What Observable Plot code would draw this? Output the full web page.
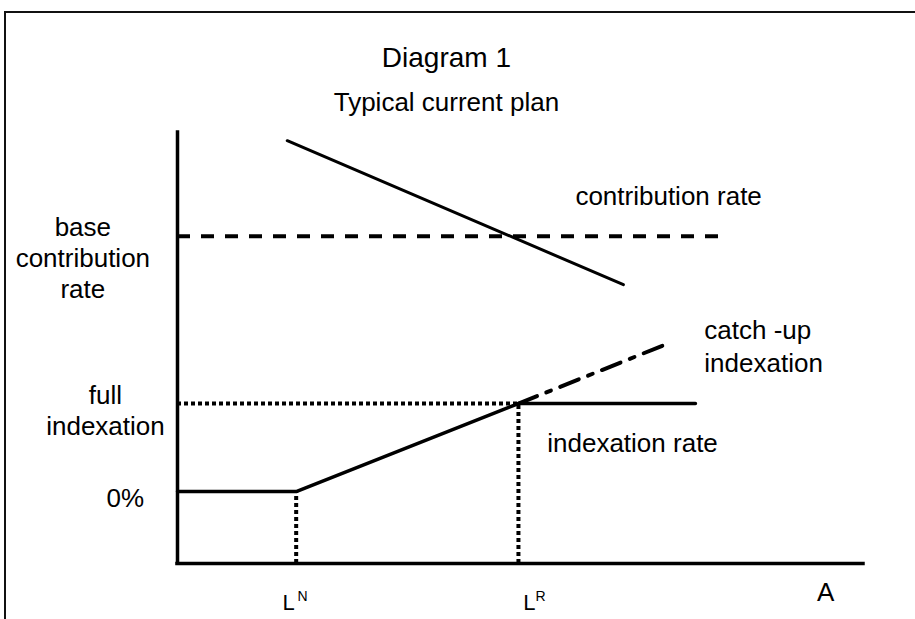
<!DOCTYPE html>
<html><head><meta charset="utf-8">
<script src="https://cdn.jsdelivr.net/npm/d3@7"></script>
<script src="https://cdn.jsdelivr.net/npm/@observablehq/plot@0.6"></script>
<style>
html,body{margin:0;padding:0;overflow:hidden;background:#fff;width:915px;height:619px}
#chart{position:absolute;left:0;top:0}
#frame{position:absolute;left:4px;top:11px;width:1000px;height:1000px;border:2px solid #111;pointer-events:none}
</style></head><body>
<div id="chart"></div>
<div id="frame"></div>
<script>
// Schematic units: x = age A (0..100 along axis), y = rate (0..100 along axis)
const axisX = [0, 100];
const axisY = [0, 100];
const LN = 17.3, LR = 49.7;
const zeroLevel = 16.7, fullLevel = 37.1, baseLevel = 75.9;
const baseEnd = 79.4;

const contribX = [16.0, 65.0];
const contribY = [98.1, 64.7];
const indexX = [0, LN, LR, 75.5];
const indexY = [zeroLevel, zeroLevel, fullLevel, fullLevel];
const catchX = [LR, 71.9];
const catchY = [fullLevel, 51.3];

// title lines
const titleText = ["Diagram 1", "Typical current plan"];
const titleX = [39.2, 39.2];
const titleY = [115.1, 104.9];
const titleSize = [28, 26];
// centred level labels on the left, and the axis name
const midText = ["base", "contribution", "rate", "full", "indexation", "0%", "A"];
const midX = [-13.8, -13.8, -13.8, -10.5, -10.5, -7.6, 94.5];
const midY = [76.1, 68.7, 61.5, 37.0, 29.7, 13.0, -8.6];
// left-aligned curve labels
const startText = ["contribution rate", "catch -up", "indexation", "indexation rate"];
const startX = [58.0, 76.8, 76.8, 53.9];
const startY = [83.1, 52.0, 44.5, 25.8];

const lText = ["L", "L"];
const lX = [15.3, 50.4];
const lY = [-10.7, -10.7];
const supText = ["N", "R"];
const supX = [17.5, 52.2];
const supY = [-8.8, -8.8];

const pts = (xs, ys, ts) => xs.map((x, i) => ({x, y: ys[i], t: ts ? ts[i] : null}));
const font = "Liberation Sans, Arial, sans-serif";

const chart = Plot.plot({
  width: 915, height: 619,
  marginLeft: 177, marginRight: 52, marginTop: 132, marginBottom: 56,
  style: {background: "transparent", fontFamily: font},
  x: {domain: axisX, axis: null},
  y: {domain: axisY, axis: null},
  marks: [
    // dotted guides
    Plot.ruleY([fullLevel], {x1: 0, x2: LR, stroke: "#000", strokeWidth: 4, strokeDasharray: "4,3"}),
    Plot.ruleX([LN], {y1: 0, y2: zeroLevel, stroke: "#000", strokeWidth: 4, strokeDasharray: "4,3"}),
    Plot.ruleX([LR], {y1: 0, y2: fullLevel, stroke: "#000", strokeWidth: 4, strokeDasharray: "4,3"}),
    // base contribution rate (dashed)
    Plot.ruleY([baseLevel], {x1: 0, x2: baseEnd, stroke: "#000", strokeWidth: 4, strokeDasharray: "13,11"}),
    // contribution rate
    Plot.line(pts(contribX, contribY), {x: "x", y: "y", stroke: "#000", strokeWidth: 3}),
    // indexation rate
    Plot.line(pts(indexX, indexY), {x: "x", y: "y", stroke: "#000", strokeWidth: 3.5, strokeLinejoin: "miter"}),
    // catch-up indexation (dash-dot)
    Plot.line(pts(catchX, catchY), {x: "x", y: "y", stroke: "#000", strokeWidth: 4, strokeDasharray: "20,10,5,10"}),
    // axes
    Plot.ruleX([axisX[0]], {y1: axisY[0], y2: axisY[1], stroke: "#000", strokeWidth: 3.5, strokeLinecap: "square"}),
    Plot.ruleY([axisY[0]], {x1: axisX[0], x2: axisX[1], stroke: "#000", strokeWidth: 3.5, strokeLinecap: "square"}),
    // labels
    Plot.text(pts(titleX, titleY, titleText).slice(0, 1), {x: "x", y: "y", text: "t", textAnchor: "middle", lineAnchor: "bottom", fontSize: titleSize[0], fill: "#000", fontFamily: font}),
    Plot.text(pts(titleX, titleY, titleText).slice(1), {x: "x", y: "y", text: "t", textAnchor: "middle", lineAnchor: "bottom", fontSize: titleSize[1], fill: "#000", fontFamily: font}),
    Plot.text(pts(midX, midY, midText), {x: "x", y: "y", text: "t", textAnchor: "middle", lineAnchor: "bottom", fontSize: 26, fill: "#000", fontFamily: font}),
    Plot.text(pts(startX, startY, startText), {x: "x", y: "y", text: "t", textAnchor: "start", lineAnchor: "bottom", fontSize: 26, fill: "#000", fontFamily: font}),
    Plot.text(pts(lX, lY, lText), {x: "x", y: "y", text: "t", textAnchor: "start", lineAnchor: "bottom", fontSize: 22, fill: "#000", fontFamily: font}),
    Plot.text(pts(supX, supY, supText), {x: "x", y: "y", text: "t", textAnchor: "start", lineAnchor: "bottom", fontSize: 14, fill: "#000", fontFamily: font})
  ]
});
document.getElementById("chart").appendChild(chart);
</script>
</body></html>
